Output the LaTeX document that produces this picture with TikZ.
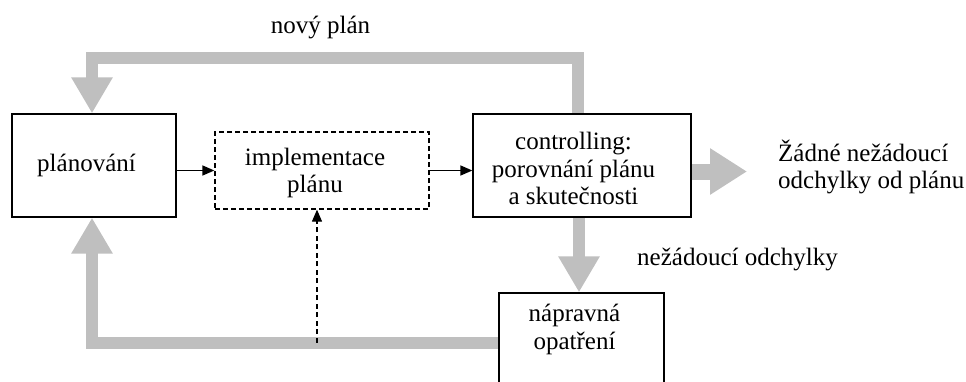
\documentclass[tikz,border=0pt]{standalone}
\usepackage{fontspec}
\setmainfont{Liberation Serif}
\usetikzlibrary{arrows.meta}
\definecolor{flowgray}{RGB}{191,191,191}
\begin{document}
\begin{tikzpicture}[x=1pt,y=-1pt,
  box/.style={draw=black,line width=1.3pt,fill=white,inner sep=0pt,rectangle},
  dbox/.style={box,dash pattern=on 5pt off 3pt},
  txt/.style={font=\fontsize{25}{27.5}\selectfont,inner sep=0pt,anchor=base},
  flow/.style={draw=flowgray,line width=12pt,line join=miter,
    -{Triangle[length=36pt,width=39pt]}},
  conn/.style={draw=black,line width=1.5pt,-{Triangle[length=12pt,width=10pt]}},
]
\useasboundingbox (0,0) rectangle (966,381);
\clip (0,0) rectangle (966,381);

% corner points of the gray loops
\coordinate (topL) at (92,57.5);
\coordinate (botL) at (92,342.5);
\coordinate (okTip) at (747,171.5);
\coordinate (tap) at (317,342.5);

% boxes
\node[box,minimum width=164pt,minimum height=103pt] (plan) at (94,165.5) {};
\node[dbox,minimum width=214pt,minimum height=77pt] (impl) at (322,170.5) {};
\node[box,minimum width=218pt,minimum height=103pt] (ctrl) at (582,165.5) {};
\node[box,minimum width=165pt,minimum height=107pt] (fix) at (581.5,346.5) {};

% gray flows
\draw[flow] ([xshift=-4pt]ctrl.north) |- (topL) -- (topL |- plan.north);
\draw[flow] (fix.west |- botL) -- (botL) -- (botL |- plan.south);
\draw[flow] ([xshift=-3pt]ctrl.south) -- ([xshift=-3pt]ctrl.south |- fix.north);
\draw[flow,line width=16pt,-{Triangle[length=37pt,width=44pt]}] (ctrl.east |- okTip) -- (okTip);

% redraw box outlines over the flows
\node[box,minimum width=164pt,minimum height=103pt] at (plan) {};
\node[box,minimum width=218pt,minimum height=103pt] at (ctrl) {};
\node[box,minimum width=165pt,minimum height=107pt] at (fix) {};

% black connectors
\draw[conn] (plan.east |- impl.west) -- (impl.west);
\draw[conn] (impl.east) -- (ctrl.west |- impl.east);
\draw[conn,line width=1.2pt,dash pattern=on 5pt off 3.5pt] (tap) -- (tap |- impl.south);

% texts
\node[txt] (tNovy) at (320.5,33) {nový plán};
\node[txt] (tPlan) at (86.5,171) {plánování};
\node[txt] (tImpl) at (315,165) {\begin{tabular}[t]{@{}c@{}}implementace\\plánu\end{tabular}};
\node[txt] (tCtrl) at (573.5,149.5) {\begin{tabular}[t]{@{}c@{}}controlling:\\porovnání plánu\\a skutečnosti\end{tabular}};
\node[txt,anchor=base west] (tOk) at (778,161) {\begin{tabular}[t]{@{}l@{}}Žádné nežádoucí\\odchylky od plánu\end{tabular}};
\node[txt,anchor=base west] (tDev) at (637,265) {nežádoucí odchylky};
\node[txt] (tFix) at (574.5,321.7) {\begin{tabular}[t]{@{}c@{}}nápravná\\opatření\end{tabular}};
\end{tikzpicture}
\end{document}
